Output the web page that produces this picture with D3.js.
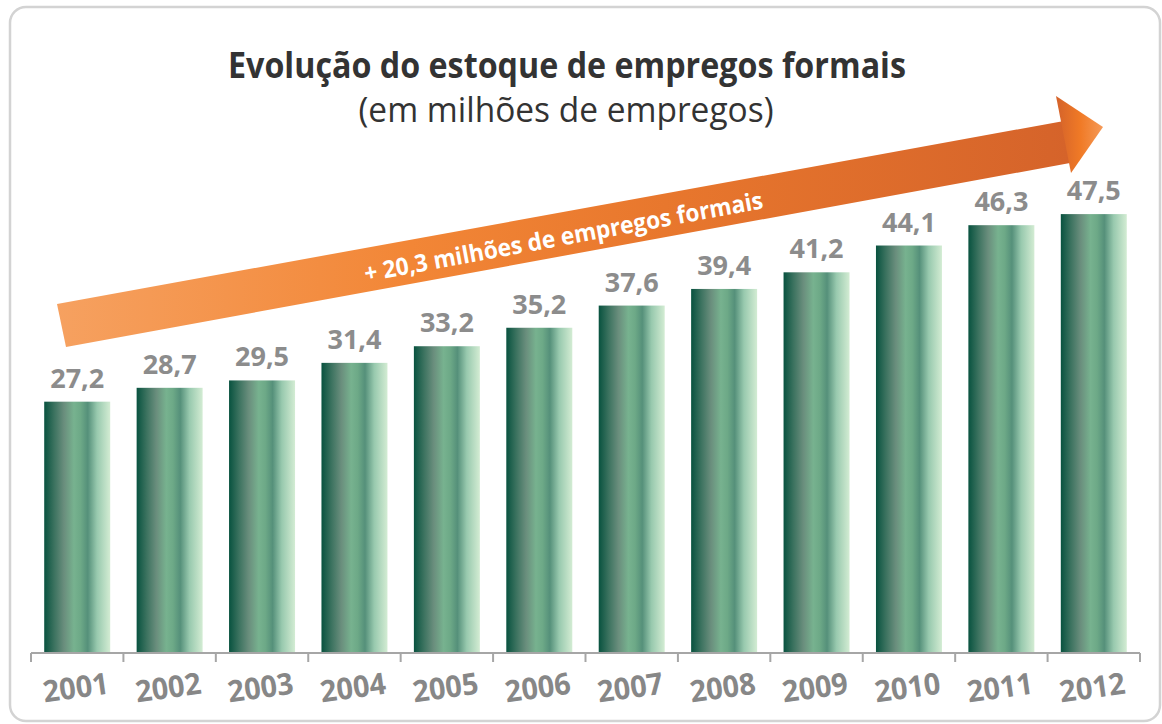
<!DOCTYPE html>
<html>
<head>
<meta charset="utf-8">
<script src="https://cdn.jsdelivr.net/npm/d3@7"></script>
<style>
  body { margin: 0; background: #fff; }
  svg text { font-family: "Open Sans", "DejaVu Sans", sans-serif; }
</style>
</head>
<body>
<svg width="1162" height="724"></svg>
<script>
// data
const years = ['2001', '2002', '2003', '2004', '2005', '2006', '2007', '2008', '2009', '2010', '2011', '2012'];
const jobs = [27.2, 28.7, 29.5, 31.4, 33.2, 35.2, 37.6, 39.4, 41.2, 44.1, 46.3, 47.5];
const title = 'Evolução do estoque de empregos formais';
const subtitle = '(em milhões de empregos)';
const arrowLabel = '+ 20,3 milhões de empregos formais';

const fmt = v => v.toFixed(1).replace('.', ',');

const svg = d3.select('svg');
const defs = svg.append('defs');

// bar gradient
const barGrad = defs.append('linearGradient')
    .attr('id', 'barGrad')
    .attr('x1', '0%').attr('x2', '100%').attr('y1', '0%').attr('y2', '0%');
[
    [0, '#08523f'], [0.15, '#3b725f'], [0.3, '#6a8e7d'], [0.45, '#77b28f'],
    [0.55, '#6da987'], [0.66, '#55907a'], [0.8, '#98c9ae'], [1, '#d3ecd3']
].forEach(s => barGrad.append('stop').attr('offset', s[0]).attr('stop-color', s[1]));

// arrow gradients
const shaftGrad = defs.append('linearGradient')
    .attr('id', 'shaftGrad').attr('gradientUnits', 'userSpaceOnUse')
    .attr('x1', 57).attr('x2', 1070).attr('y1', 0).attr('y2', 0);
[[0, '#f6a160'], [0.35, '#f28636'], [0.6, '#e8772d'], [1, '#d5632a']]
    .forEach(s => shaftGrad.append('stop').attr('offset', s[0]).attr('stop-color', s[1]));
const headGrad = defs.append('linearGradient')
    .attr('id', 'headGrad').attr('gradientUnits', 'userSpaceOnUse')
    .attr('x1', 1058).attr('x2', 1103).attr('y1', 0).attr('y2', 0);
[[0, '#d6642a'], [0.5, '#f07a26'], [1, '#f59a58']]
    .forEach(s => headGrad.append('stop').attr('offset', s[0]).attr('stop-color', s[1]));

// frame
svg.append('rect')
    .attr('x', 10).attr('y', 7)
    .attr('width', 1150).attr('height', 714)
    .attr('rx', 16)
    .attr('fill', 'none')
    .attr('stroke', '#d3d3d3')
    .attr('stroke-width', 2.5);

// scales
const x = d3.scaleBand().domain(years).range([31, 1140]).paddingInner(0.286).paddingOuter(0.143);
const y = d3.scaleLinear().domain([0, 50]).range([653, 191]);

// titles
svg.append('text')
    .attr('x', 567).attr('y', 78)
    .attr('text-anchor', 'middle')
    .attr('font-size', 36).attr('font-weight', 700)
    .attr('fill', '#333')
    .attr('textLength', 678).attr('lengthAdjust', 'spacingAndGlyphs')
    .text(title);
svg.append('text')
    .attr('x', 566).attr('y', 122)
    .attr('text-anchor', 'middle')
    .attr('font-size', 35)
    .attr('fill', '#333')
    .attr('textLength', 415).attr('lengthAdjust', 'spacingAndGlyphs')
    .text(subtitle);

// arrow
const arrow = svg.append('g').attr('id', 'arrow');
arrow.append('path')
    .attr('d', 'M57,304 L1064,121 L1070,163 L66,347 Z')
    .attr('fill', 'url(#shaftGrad)');
arrow.append('path')
    .attr('d', 'M1056,96 L1103,127 L1071,173 Z')
    .attr('fill', 'url(#headGrad)');
arrow.append('text')
    .attr('transform', 'translate(565,245) rotate(-10.5)')
    .attr('text-anchor', 'middle')
    .attr('font-size', 24).attr('font-weight', 700)
    .attr('fill', '#fff')
    .attr('textLength', 405).attr('lengthAdjust', 'spacingAndGlyphs')
    .text(arrowLabel);

// bars
const barG = svg.append('g').attr('id', 'bars')
    .selectAll('g')
    .data(years.map((yr, i) => ({ year: yr, value: jobs[i] })))
    .enter()
    .append('g');
barG.append('rect')
    .attr('x', d => x(d.year))
    .attr('y', d => y(d.value))
    .attr('width', x.bandwidth())
    .attr('height', d => y(0) - y(d.value))
    .attr('fill', 'url(#barGrad)');
barG.append('text')
    .attr('x', d => x(d.year) + x.bandwidth() / 2)
    .attr('y', d => y(d.value) - 14)
    .attr('text-anchor', 'middle')
    .attr('font-size', 27).attr('font-weight', 700)
    .attr('fill', '#8c8c8c')
    .attr('textLength', 54).attr('lengthAdjust', 'spacingAndGlyphs')
    .text(d => fmt(d.value));

// axis
const axisG = svg.append('g').attr('id', 'axis');
const half = x.step() * x.paddingInner() / 2;
const bounds = years.map(yr => x(yr) - half).concat([x(years[years.length - 1]) + x.bandwidth() + half]);
axisG.append('line')
    .attr('x1', bounds[0]).attr('x2', bounds[bounds.length - 1])
    .attr('y1', y(0)).attr('y2', y(0))
    .attr('stroke', '#a6a6a6').attr('stroke-width', 2);
axisG.selectAll('line.tick')
    .data(bounds)
    .enter()
    .append('line')
    .attr('class', 'tick')
    .attr('x1', d => d).attr('x2', d => d)
    .attr('y1', y(0)).attr('y2', y(0) + 9)
    .attr('stroke', '#a6a6a6').attr('stroke-width', 2);
axisG.selectAll('text')
    .data(years)
    .enter()
    .append('text')
    .attr('transform', d => `translate(${x(d) + x.bandwidth() / 2},698) rotate(-8)`)
    .attr('text-anchor', 'middle')
    .attr('font-size', 30).attr('font-weight', 700)
    .attr('fill', '#878787')
    .attr('textLength', 66).attr('lengthAdjust', 'spacingAndGlyphs')
    .text(d => d);
</script>
</body>
</html>
